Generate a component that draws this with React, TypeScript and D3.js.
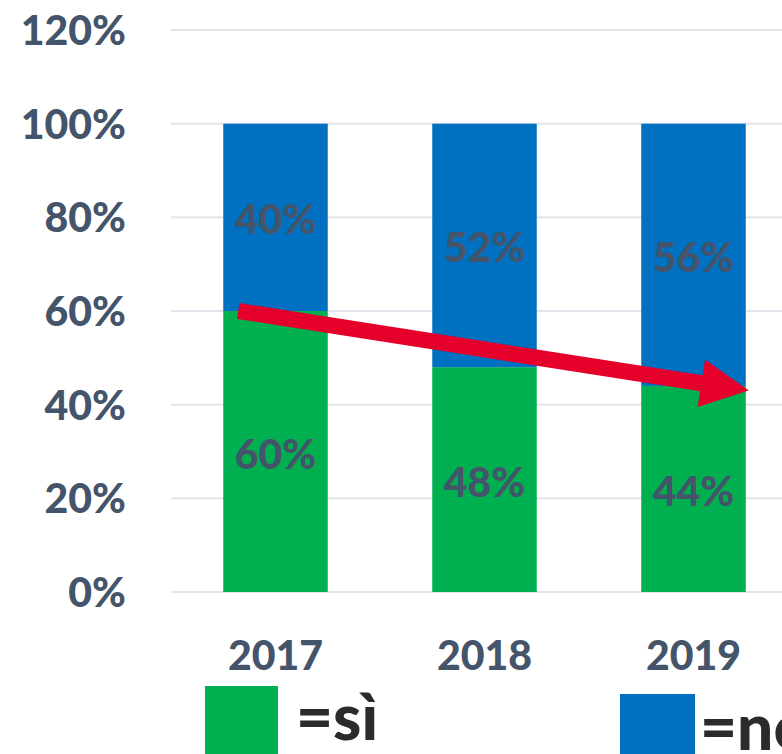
import React, { useRef, useEffect } from 'react';
import * as d3 from 'd3';

const years = ['2017', '2018', '2019'];
const siValues = [60, 48, 44];
const noValues = [40, 52, 56];
const yTicks = [0, 20, 40, 60, 80, 100, 120];

const W = 782;
const H = 754;

const App = () => {
    const svgRef = useRef<SVGSVGElement>(null);

    useEffect(() => {
        const svg = d3.select(svgRef.current);
        svg.selectAll('*').remove();

        const font = 'Lato, "Open Sans", sans-serif';
        const x = d3.scaleBand()
            .domain(years)
            .range([171, 798])
            .paddingInner(0.5)
            .paddingOuter(0.25);
        const y = d3.scaleLinear().domain([0, 120]).range([592, 30]);

        // gridlines
        svg.append('g')
            .selectAll('line')
            .data(yTicks)
            .enter()
            .append('line')
            .attr('x1', 171)
            .attr('x2', W)
            .attr('y1', d => y(d))
            .attr('y2', d => y(d))
            .attr('stroke', '#e1e4ea')
            .attr('stroke-width', 2);

        // y labels
        svg.append('g')
            .selectAll('text')
            .data(yTicks)
            .enter()
            .append('text')
            .attr('x', 126)
            .attr('y', d => y(d) + 15)
            .attr('text-anchor', 'end')
            .attr('font-family', font)
            .attr('font-weight', 900)
            .attr('font-size', 41)
            .attr('fill', '#44546a')
            .text(d => d + '%');

        const rows = years.map((yr, i) => ({ yr, si: siValues[i], no: noValues[i] }));

        const groups = svg.append('g')
            .selectAll('g')
            .data(rows)
            .enter()
            .append('g');

        groups.append('rect')
            .attr('x', d => x(d.yr)!)
            .attr('width', x.bandwidth())
            .attr('y', d => y(d.si))
            .attr('height', d => y(0) - y(d.si))
            .attr('fill', '#00b050');

        groups.append('rect')
            .attr('x', d => x(d.yr)!)
            .attr('width', x.bandwidth())
            .attr('y', d => y(d.si + d.no))
            .attr('height', d => y(d.si) - y(d.si + d.no))
            .attr('fill', '#0070c0');

        groups.append('text')
            .attr('x', d => x(d.yr)! + x.bandwidth() / 2)
            .attr('y', d => y(d.si / 2) + 17)
            .attr('text-anchor', 'middle')
            .attr('font-family', font)
            .attr('font-weight', 900)
            .attr('font-size', 41)
            .attr('fill', '#44546a')
            .text(d => d.si + '%');

        groups.append('text')
            .attr('x', d => x(d.yr)! + x.bandwidth() / 2)
            .attr('y', d => y(d.si + d.no / 2) + 17)
            .attr('text-anchor', 'middle')
            .attr('font-family', font)
            .attr('font-weight', 900)
            .attr('font-size', 41)
            .attr('fill', '#44546a')
            .text(d => d.no + '%');

        // x labels
        groups.append('text')
            .attr('x', d => x(d.yr)! + x.bandwidth() / 2)
            .attr('y', 670)
            .attr('text-anchor', 'middle')
            .attr('font-family', font)
            .attr('font-weight', 900)
            .attr('font-size', 41)
            .attr('fill', '#44546a')
            .text(d => d.yr);

        // red trend arrow
        const x0 = x('2017')! + 15;
        const y0 = y(60);
        const x1 = x('2019')! + x.bandwidth() + 3;
        const y1 = y(43);
        const ang = Math.atan2(y1 - y0, x1 - x0);
        const headLen = 48;
        const headHalf = 24;
        const shaftHalf = 8;
        const bx = x1 - headLen * Math.cos(ang);
        const by = y1 - headLen * Math.sin(ang);
        const nx = -Math.sin(ang);
        const ny = Math.cos(ang);
        const pts: [number, number][] = [
            [x0 + nx * shaftHalf, y0 + ny * shaftHalf],
            [bx + nx * shaftHalf, by + ny * shaftHalf],
            [bx + nx * headHalf, by + ny * headHalf],
            [x1, y1],
            [bx - nx * headHalf, by - ny * headHalf],
            [bx - nx * shaftHalf, by - ny * shaftHalf],
            [x0 - nx * shaftHalf, y0 - ny * shaftHalf],
        ];
        svg.append('path')
            .attr('d', d3.line()(pts) + 'Z')
            .attr('fill', '#e4002b');

        // legend (cut off at the right edge, as in the source)
        const legend = svg.append('g');
        legend.append('rect')
            .attr('x', 205).attr('y', 686).attr('width', 73).attr('height', 70)
            .attr('fill', '#00b050');
        legend.append('text')
            .attr('x', 296).attr('y', 740)
            .attr('font-family', font)
            .attr('font-weight', 900)
            .attr('font-size', 64)
            .attr('fill', '#2b2b2b')
            .text('=sì');
        legend.append('rect')
            .attr('x', 620).attr('y', 694).attr('width', 75).attr('height', 62)
            .attr('fill', '#0070c0');
        legend.append('text')
            .attr('x', 700).attr('y', 750)
            .attr('font-family', font)
            .attr('font-weight', 900)
            .attr('font-size', 64)
            .attr('fill', '#2b2b2b')
            .text('=no');
    }, []);

    return (
        <svg ref={svgRef} width={W} height={H}
            style={{ position: 'absolute', left: 0, top: 0, background: '#fff' }}></svg>
    );
};

export default App;
